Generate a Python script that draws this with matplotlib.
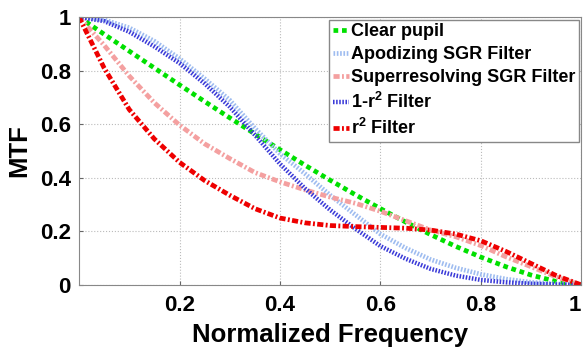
import matplotlib
matplotlib.use('Agg')
import matplotlib.pyplot as plt
import numpy as np

plt.rcParams['font.family'] = ['Liberation Sans', 'DejaVu Sans']
plt.rcParams['font.weight'] = 'bold'
plt.rcParams['mathtext.fontset'] = 'custom'
plt.rcParams['mathtext.rm'] = 'Liberation Sans:bold'
plt.rcParams['mathtext.it'] = 'Liberation Sans:bold'
plt.rcParams['mathtext.bf'] = 'Liberation Sans:bold'

# normalized frequency samples
freq = [0.0, 0.05, 0.1, 0.15, 0.2, 0.25, 0.3, 0.35, 0.4, 0.45, 0.5,
        0.55, 0.6, 0.65, 0.7, 0.75, 0.8, 0.85, 0.9, 0.95, 1.0]

clear_pupil = [1.0, 0.936, 0.873, 0.81, 0.747, 0.685, 0.624, 0.564, 0.505, 0.447, 0.391,
               0.337, 0.285, 0.235, 0.188, 0.144, 0.104, 0.068, 0.037, 0.013, 0.0]
apodizing_sgr = [1.0, 0.99, 0.96, 0.91, 0.845, 0.77, 0.69, 0.585, 0.49, 0.415, 0.335,
                 0.262, 0.19, 0.138, 0.095, 0.064, 0.04, 0.022, 0.01, 0.004, 0.0]
superres_sgr = [1.0, 0.895, 0.78, 0.68, 0.597, 0.527, 0.472, 0.42, 0.385, 0.355, 0.328,
                0.305, 0.275, 0.24, 0.205, 0.18, 0.147, 0.105, 0.068, 0.03, 0.0]
one_minus_r2 = [1.0, 0.985, 0.945, 0.89, 0.828, 0.752, 0.665, 0.56, 0.452, 0.36, 0.28,
                0.21, 0.145, 0.098, 0.06, 0.035, 0.019, 0.01, 0.005, 0.002, 0.0]
r2_filter = [1.0, 0.81, 0.655, 0.545, 0.458, 0.39, 0.335, 0.285, 0.25, 0.232, 0.222,
             0.218, 0.215, 0.212, 0.205, 0.19, 0.165, 0.125, 0.08, 0.035, 0.0]

labels = ['Clear pupil', 'Apodizing SGR Filter', 'Superresolving SGR Filter',
          r'1-r$^2$ Filter', r'r$^2$ Filter']

fig = plt.figure(figsize=(5.87, 3.53), dpi=100)
ax = fig.add_axes([0.1346, 0.1926, 0.856, 0.759])

ax.plot(freq, clear_pupil, color='#00e000', lw=3.4, ls=(0, (1, 0.8)), label=labels[0])
ax.plot(freq, apodizing_sgr, color='#9ebcf0', lw=3.4, ls=(0, (0.35, 0.35)), label=labels[1])
ax.plot(freq, superres_sgr, color='#f4a0a0', lw=3.4, ls=(0, (1.3, 0.5, 0.4, 0.5)), label=labels[2])
ax.plot(freq, one_minus_r2, color='#3a3ad8', lw=3.2, ls=(0, (0.35, 0.35)), label=labels[3])
ax.plot(freq, r2_filter, color='#ee0000', lw=3.4, ls=(0, (1.3, 0.5, 0.4, 0.5)), label=labels[4])

ax.set_xlim(0, 1)
ax.set_ylim(0, 1)
ax.set_xticks([0.2, 0.4, 0.6, 0.8, 1.0])
ax.set_xticklabels(['0.2', '0.4', '0.6', '0.8', '1'])
ax.set_yticks([0, 0.2, 0.4, 0.6, 0.8, 1.0])
ax.set_yticklabels(['0', '0.2', '0.4', '0.6', '0.8', '1'])
ax.tick_params(direction='in', length=3, labelsize=16, color='#666666')
ax.tick_params(axis='x', pad=7)
ax.tick_params(axis='y', pad=6)
for lab in ax.get_xticklabels() + ax.get_yticklabels():
    lab.set_fontweight('bold')
# keep the last x label inside the figure
ax.get_xticklabels()[-1].set_horizontalalignment('right')
ax.get_xticklabels()[-1].set_x(1.006)
for s in ax.spines.values():
    s.set_color('#888888')
ax.grid(True, ls=':', color='#bbbbbb', lw=0.8)

ax.set_xlabel('Normalized Frequency', fontsize=18.5, fontweight='bold', labelpad=5)
ax.set_ylabel('MTF', fontsize=18.5, fontweight='bold', labelpad=6)

leg = ax.legend(loc='upper right', bbox_to_anchor=(0.995, 0.99), fontsize=13,
                handlelength=0.9, handletextpad=0.1, labelspacing=0.33,
                borderpad=0.2, fancybox=False, framealpha=1, borderaxespad=0)
leg.get_frame().set_edgecolor('#888888')
leg.get_frame().set_linewidth(1.0)
for t in leg.get_texts():
    t.set_fontweight('bold')

fig.savefig('out.png', dpi=100)
